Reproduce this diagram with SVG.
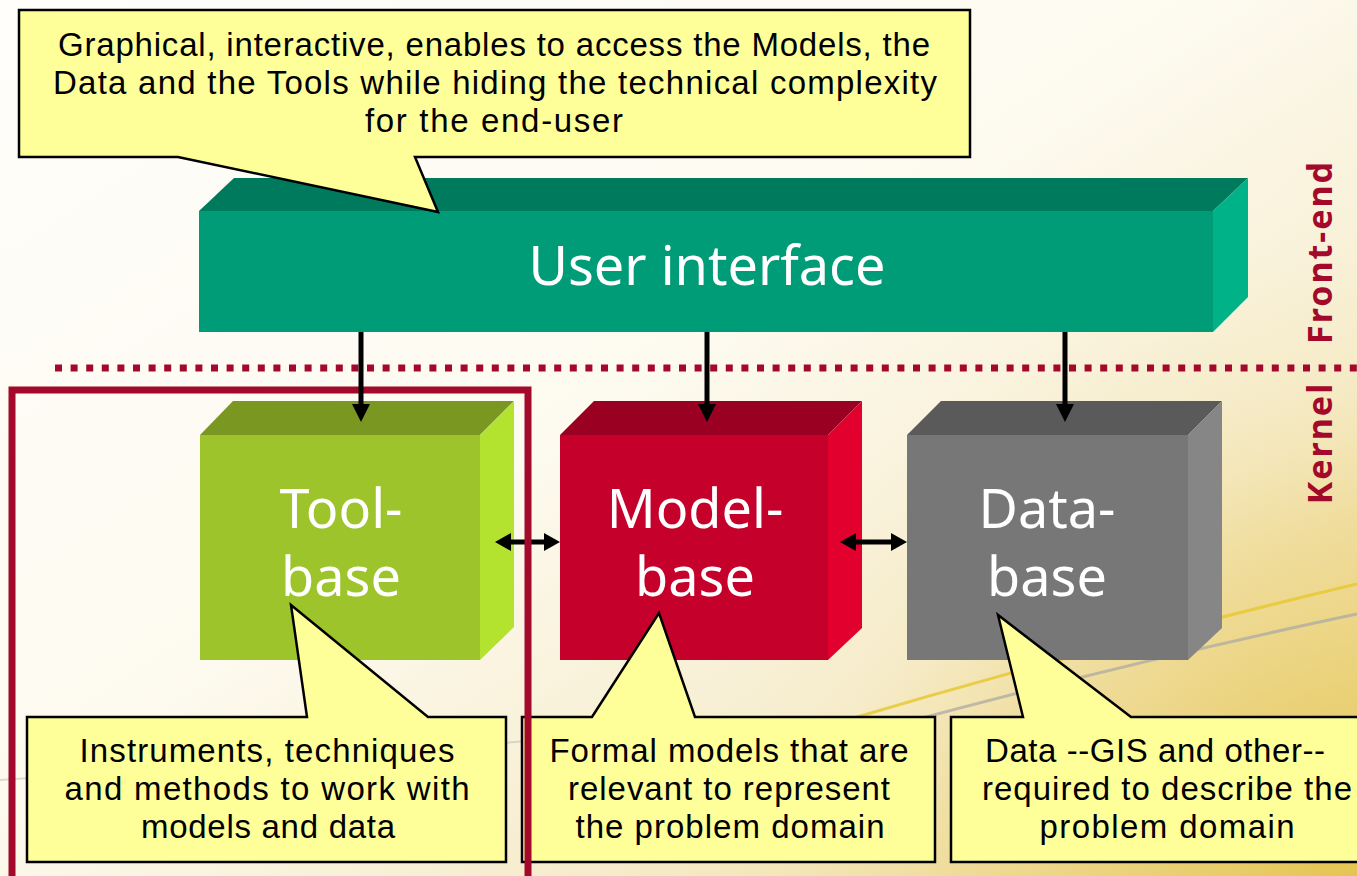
<svg xmlns="http://www.w3.org/2000/svg" width="1357" height="876" viewBox="0 0 1357 876">
  <defs>
    <linearGradient id="bg" x1="0" y1="0" x2="1" y2="1">
      <stop offset="0" stop-color="#FFFEFB"/>
      <stop offset="0.45" stop-color="#FDFAF0"/>
      <stop offset="0.72" stop-color="#F6ECCB"/>
      <stop offset="1" stop-color="#E6C95F"/>
    </linearGradient>
    <radialGradient id="glow" cx="1357" cy="876" r="720" gradientUnits="userSpaceOnUse">
      <stop offset="0" stop-color="#E4C450" stop-opacity="0.9"/>
      <stop offset="0.5" stop-color="#EED88E" stop-opacity="0.5"/>
      <stop offset="1" stop-color="#FFFFFF" stop-opacity="0"/>
    </radialGradient>
    <style>
      .callout { fill: #FFFF99; stroke: #000; stroke-width: 2.5; stroke-linejoin: miter; }
      .ctext { font-family: "Liberation Sans", Arial, sans-serif; font-size: 33px; fill: #000; text-anchor: middle; }
      .btext { font-family: "Noto Sans", "Liberation Sans", sans-serif; font-size: 54px; fill: #FFF; text-anchor: middle; }
      .side { font-family: "Noto Sans", "Liberation Sans", sans-serif; font-size: 34px; font-weight: bold; fill: #A3092A; text-anchor: middle; letter-spacing: 2px; }
      .conn { stroke: #000; stroke-width: 5; fill: none; }
      .head { fill: #000; }
    </style>
  </defs>

  <!-- background -->
  <rect x="0" y="0" width="1357" height="876" fill="url(#bg)"/>
  <rect x="0" y="0" width="1357" height="876" fill="url(#glow)"/>
  <path d="M0,780 Q300,760 600,735" fill="none" stroke="#BDB7A8" stroke-width="2" opacity="0.5"/>
  <path d="M840,722 Q1100,645 1357,584" fill="none" stroke="#E8C832" stroke-width="3" opacity="0.85"/>
  <path d="M900,724 Q1130,662 1357,614" fill="none" stroke="#B0ADA2" stroke-width="3" opacity="0.8"/>

  <!-- dotted separator -->
  <line x1="55" y1="368" x2="1357" y2="368" stroke="#A3092A" stroke-width="7" stroke-dasharray="7 8.6"/>

  <!-- side labels -->
  <text class="side" transform="translate(1332,252) rotate(-90)">Front-end</text>
  <text class="side" transform="translate(1332,443) rotate(-90)">Kernel</text>

  <!-- User interface -->
  <g id="user-interface">
    <polygon points="199,211 234,178 1248,178 1213,211" fill="#007A5C"/>
    <polygon points="1213,211 1248,178 1248,297 1213,332" fill="#00B287"/>
    <rect x="199" y="211" width="1014" height="121" fill="#009B77"/>
    <text class="btext" x="707" y="285">User interface</text>
  </g>

  <!-- Tool-base -->
  <g id="tool-base">
    <polygon points="200,435 233,401 514,401 480,435" fill="#7A9722"/>
    <polygon points="480,435 514,401 514,627 480,660" fill="#B3E22F"/>
    <rect x="200" y="435" width="280" height="225" fill="#9DC42A"/>
    <text class="btext" x="341" y="528">Tool-</text>
    <text class="btext" x="341" y="596">base</text>
  </g>

  <!-- Model-base -->
  <g id="model-base">
    <polygon points="560,435 594,401 862,401 828,435" fill="#990021"/>
    <polygon points="828,435 862,401 862,628 828,660" fill="#E2002E"/>
    <rect x="560" y="435" width="268" height="225" fill="#C4002B"/>
    <text class="btext" x="695" y="528">Model-</text>
    <text class="btext" x="695" y="596">base</text>
  </g>

  <!-- Data-base -->
  <g id="data-base">
    <polygon points="907,435 941,401 1222,401 1188,435" fill="#5A5A5A"/>
    <polygon points="1188,435 1222,401 1222,628 1188,660" fill="#868686"/>
    <rect x="907" y="435" width="281" height="225" fill="#777777"/>
    <text class="btext" x="1047" y="528">Data-</text>
    <text class="btext" x="1047" y="596">base</text>
  </g>

  <!-- horizontal connectors -->
  <g id="connectors-h">
    <line class="conn" x1="505" y1="542" x2="550" y2="542"/>
    <polygon class="head" points="495,542 511,533 511,551"/>
    <polygon class="head" points="560,542 544,533 544,551"/>
    <line class="conn" x1="850" y1="542" x2="897" y2="542"/>
    <polygon class="head" points="840,542 856,533 856,551"/>
    <polygon class="head" points="907,542 891,533 891,551"/>
  </g>

  <!-- callouts -->
  <g id="callout-top">
    <path class="callout" d="M19,10 H970 V157 H415 L438,212 L178,157 H19 Z"/>
    <text class="ctext" x="494" y="56" textLength="872">Graphical, interactive, enables to access the Models, the</text>
    <text class="ctext" x="495" y="94" textLength="884">Data and the Tools while hiding the technical complexity</text>
    <text class="ctext" x="494" y="132" textLength="258">for the end-user</text>
  </g>
  <g id="callout-tool">
    <path class="callout" d="M27,717 H307 L291,605 L428,717 H506 V862 H27 Z"/>
    <text class="ctext" x="267" y="762" textLength="375">Instruments, techniques</text>
    <text class="ctext" x="267" y="800" textLength="405">and methods to work with</text>
    <text class="ctext" x="268" y="838" textLength="254">models and data</text>
  </g>
  <g id="callout-model">
    <path class="callout" d="M522,717 H592 L659,613 L695,717 H935 V862 H522 Z"/>
    <text class="ctext" x="729" y="762" textLength="359">Formal models that are</text>
    <text class="ctext" x="729" y="800" textLength="322">relevant to represent</text>
    <text class="ctext" x="730" y="838" textLength="309">the problem domain</text>
  </g>
  <g id="callout-data">
    <path class="callout" d="M951,717 H1023 L998,615 L1131,717 H1370 V862 H951 Z"/>
    <text class="ctext" x="1155" y="762" textLength="340">Data --GIS and other--</text>
    <text class="ctext" x="1167" y="800" textLength="370">required to describe the</text>
    <text class="ctext" x="1167" y="838" textLength="255">problem domain</text>
  </g>

  <!-- kernel frame -->
  <rect id="kernel-frame" x="12" y="390" width="516" height="520" fill="none" stroke="#A3092A" stroke-width="7"/>

  <!-- vertical connectors -->
  <g id="connectors-v">
    <line class="conn" x1="361" y1="332" x2="361" y2="408"/>
    <polygon class="head" points="361,422 352,404 370,404"/>
    <line class="conn" x1="707" y1="332" x2="707" y2="408"/>
    <polygon class="head" points="707,422 698,404 716,404"/>
    <line class="conn" x1="1065" y1="332" x2="1065" y2="408"/>
    <polygon class="head" points="1065,422 1056,404 1074,404"/>
  </g>
</svg>
